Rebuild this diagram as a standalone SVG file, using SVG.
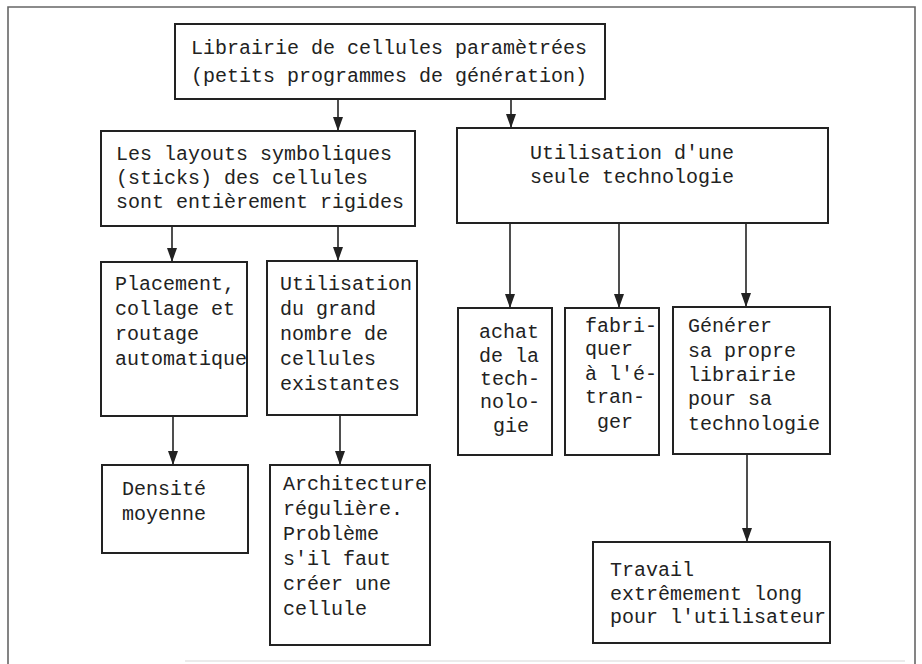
<svg xmlns="http://www.w3.org/2000/svg" width="922" height="664" viewBox="0 0 922 664">
<style>
.box{fill:#fff;stroke:#222;stroke-width:2}
.t{font-family:"Liberation Mono","DejaVu Sans Mono",monospace;font-size:20px;fill:#222}
.c{stroke:#222;stroke-width:1.6;fill:none}
.frame{stroke:#666;stroke-width:1.6;fill:none}
</style>
<defs>
<marker id="ah" viewBox="0 0 14 10" refX="14" refY="5" markerWidth="14" markerHeight="10" markerUnits="userSpaceOnUse" orient="auto">
<path d="M0,0 L14,5 L0,10 Z" fill="#222"/>
</marker>
</defs>
<rect width="922" height="664" fill="#fff"/>
<path class="frame" d="M8,664 L8,7 L915,7 L915,664"/>
<line x1="185" y1="661" x2="905" y2="661" stroke="#e4e4e4" stroke-width="1.5"/>

<g id="connectors">
<line class="c" x1="338" y1="99" x2="338" y2="131" marker-end="url(#ah)"/>
<line class="c" x1="511" y1="99" x2="511" y2="128" marker-end="url(#ah)"/>
<line class="c" x1="172" y1="226" x2="172" y2="262" marker-end="url(#ah)"/>
<line class="c" x1="338" y1="226" x2="338" y2="261" marker-end="url(#ah)"/>
<line class="c" x1="510" y1="223" x2="510" y2="308" marker-end="url(#ah)"/>
<line class="c" x1="619" y1="223" x2="619" y2="308" marker-end="url(#ah)"/>
<line class="c" x1="746" y1="223" x2="746" y2="307" marker-end="url(#ah)"/>
<line class="c" x1="173" y1="416" x2="173" y2="465" marker-end="url(#ah)"/>
<line class="c" x1="340" y1="415" x2="340" y2="465" marker-end="url(#ah)"/>
<line class="c" x1="747" y1="454" x2="747" y2="542" marker-end="url(#ah)"/>
</g>

<g id="librairie">
<rect class="box" x="175" y="24" width="430" height="75"/>
<text class="t" x="191" y="54">Librairie de cellules paramètrées</text>
<text class="t" x="191" y="82">(petits programmes de génération)</text>
</g>

<g id="layouts">
<rect class="box" x="101" y="131" width="314" height="95"/>
<text class="t" x="116" y="160">Les layouts symboliques</text>
<text class="t" x="116" y="184">(sticks) des cellules</text>
<text class="t" x="116" y="208">sont entièrement rigides</text>
</g>

<g id="technologie">
<rect class="box" x="457" y="128" width="371" height="95"/>
<text class="t" x="530" y="159">Utilisation d'une</text>
<text class="t" x="530" y="183">seule technologie</text>
</g>

<g id="placement">
<rect class="box" x="101" y="262" width="146" height="154"/>
<text class="t" x="115" y="290">Placement,</text>
<text class="t" x="115" y="315">collage et</text>
<text class="t" x="115" y="340">routage</text>
<text class="t" x="115" y="365">automatique</text>
</g>

<g id="utilisation">
<rect class="box" x="267" y="261" width="150" height="154"/>
<text class="t" x="280" y="290">Utilisation</text>
<text class="t" x="280" y="315">du grand</text>
<text class="t" x="280" y="340">nombre de</text>
<text class="t" x="280" y="365">cellules</text>
<text class="t" x="280" y="390">existantes</text>
</g>

<g id="densite">
<rect class="box" x="102" y="465" width="146" height="88"/>
<text class="t" x="122" y="495">Densité</text>
<text class="t" x="122" y="520">moyenne</text>
</g>

<g id="architecture">
<rect class="box" x="270" y="465" width="160" height="180"/>
<text class="t" x="283" y="490">Architecture</text>
<text class="t" x="283" y="515">régulière.</text>
<text class="t" x="283" y="540">Problème</text>
<text class="t" x="283" y="565">s'il faut</text>
<text class="t" x="283" y="590">créer une</text>
<text class="t" x="283" y="615">cellule</text>
</g>

<g id="achat">
<rect class="box" x="458" y="308" width="94" height="147"/>
<text class="t" x="479" y="338">achat</text>
<text class="t" x="479" y="362">de la</text>
<text class="t" x="480" y="385">tech-</text>
<text class="t" x="480" y="408">nolo-</text>
<text class="t" x="493" y="432">gie</text>
</g>

<g id="fabriquer">
<rect class="box" x="565" y="308" width="94" height="147"/>
<text class="t" x="585" y="332">fabri-</text>
<text class="t" x="585" y="355">quer</text>
<text class="t" x="585" y="380">à l'é-</text>
<text class="t" x="585" y="403">tran-</text>
<text class="t" x="597" y="428">ger</text>
</g>

<g id="generer">
<rect class="box" x="673" y="307" width="157" height="147"/>
<text class="t" x="688" y="332">Générer</text>
<text class="t" x="688" y="357">sa propre</text>
<text class="t" x="688" y="381">librairie</text>
<text class="t" x="688" y="405">pour sa</text>
<text class="t" x="688" y="430">technologie</text>
</g>

<g id="travail">
<rect class="box" x="593" y="542" width="237" height="101"/>
<text class="t" x="610" y="576">Travail</text>
<text class="t" x="610" y="600">extrêmement long</text>
<text class="t" x="610" y="623">pour l'utilisateur</text>
</g>
</svg>
